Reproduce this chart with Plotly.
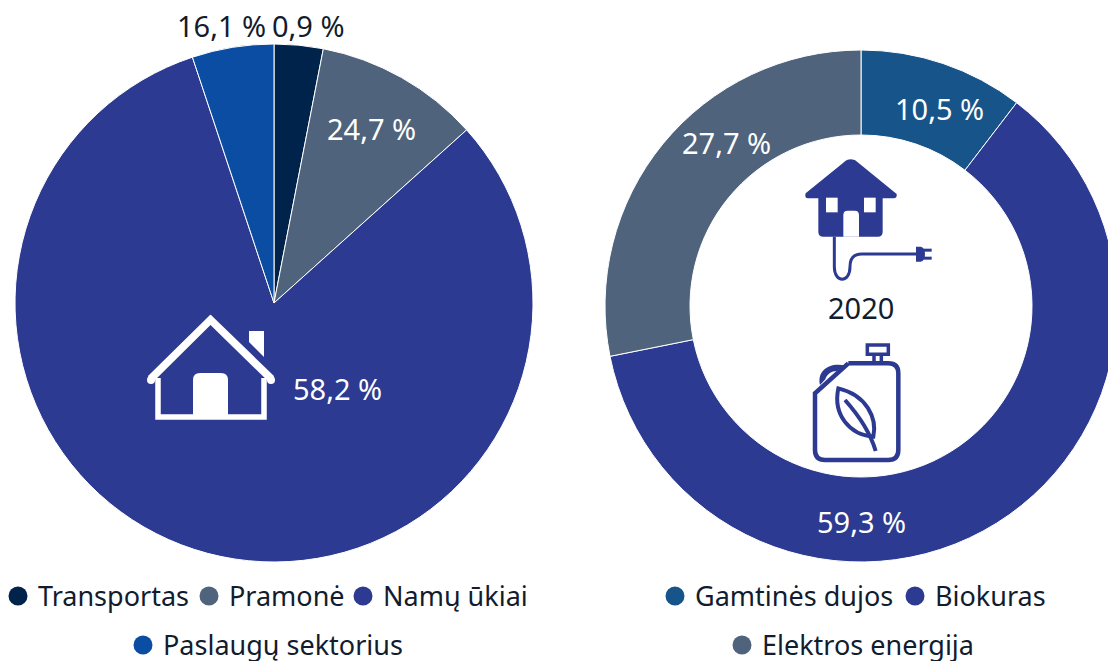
import re
import plotly.graph_objects as go

W, H = 1130, 680
FONT = "Noto Sans"
TXT = "#111c2e"

left_categories = ["Transportas", "Pramonė", "Namų ūkiai", "Paslaugų sektorius"]
left_labels = ["0,9 %", "24,7 %", "58,2 %", "16,1 %"]
# slice shares as drawn in the picture (they differ from the printed labels)
left_drawn_shares = [3.05, 10.3, 81.55, 5.1]
left_colors = ["#00234b", "#4f637c", "#2c3a91", "#0b4da2"]

right_categories = ["Gamtinės dujos", "Biokuras", "Elektros energija"]
right_labels = ["10,5 %", "59,3 %", "27,7 %"]
right_drawn_shares = [10.4, 61.45, 28.15]
right_colors = ["#16548a", "#2c3a91", "#4f637c"]
center_year = "2020"


def px(x):
    return x / W


def py(y):
    return 1 - y / H


def dom(cx, cy, r):
    return dict(x=[px(cx - r), px(cx + r)], y=[py(cy + r), py(cy - r)])


def path(s):
    """Convert a path in window pixels to paper coordinates."""
    i = [0]

    def rep(m):
        v = float(m.group(0))
        i[0] += 1
        return f"{px(v) if i[0] % 2 else py(v):.5f}"

    return re.sub(r"-?\d+\.?\d*", rep, s)


def shape(s, fill=None, line=None, lw=0):
    d = dict(type="path", xref="paper", yref="paper", path=path(s), layer="above")
    d["fillcolor"] = fill if fill else "rgba(0,0,0,0)"
    d["line"] = dict(color=line, width=lw) if line else dict(width=0)
    return d


def dot(cx, cy, r, col):
    return dict(type="circle", xref="paper", yref="paper", layer="above",
                x0=px(cx - r), x1=px(cx + r), y0=py(cy + r), y1=py(cy - r),
                fillcolor=col, line=dict(width=0))


def zp(s, ox, oy):
    """Path given in 3x zoom units around origin ox, oy."""
    i = [0]

    def rep(m):
        v = float(m.group(0)) / 3
        i[0] += 1
        return f"{v + (ox if i[0] % 2 else oy):.2f}"

    return re.sub(r"-?\d+\.?\d*", rep, s)


SLICE_LINE = dict(color="#ffffff", width=1)
fig = go.Figure()
fig.add_trace(go.Pie(
    labels=left_categories, values=left_drawn_shares, sort=False, direction="clockwise",
    rotation=0, textinfo="none", hoverinfo="label+percent", showlegend=False,
    marker=dict(colors=left_colors, line=SLICE_LINE),
    domain=dom(274, 303, 259),
))
fig.add_trace(go.Pie(
    labels=right_categories, values=right_drawn_shares, sort=False, direction="clockwise",
    rotation=0, hole=0.668, textinfo="none", hoverinfo="label+percent", showlegend=False,
    marker=dict(colors=right_colors, line=SLICE_LINE),
    domain=dom(861, 306, 256),
))

shapes = []
W_ = "#ffffff"
B_ = "#2c3a91"
# white house on the left pie
shapes += [
    shape("M 148 376 L 210 315 Q 210.5 314.5 211 315 L 274 376 L 271 384 L 210.5 325 L 151 384 Z", W_),
    dot(151, 380, 4, W_),
    dot(271, 380, 4, W_),
    shape("M 158 378 L 158 417 L 264 417 L 264 378", None, W_, 5.5),
    shape("M 193 417 L 193 380 Q 193 373 200 373 L 221 373 Q 228 373 228 380 L 228 417 Z", W_),
    shape("M 249 331 L 264 331 L 264 357 L 249 342 Z", W_),
]
# electric house
o = (790, 150)
shapes += [
    shape(zp("M 183 28 Q 195 28 205 38 L 320 132 Q 322 145 310 145 L 278 145 L 278 245 Q 278 260 263 260 "
             "L 100 260 Q 85 260 85 245 L 85 145 L 55 145 Q 42 145 47 130 L 160 38 Q 170 28 183 28 Z", *o), B_),
    shape(zp("M 108 143 L 143 143 L 143 187 L 108 187 Z", *o), W_),
    shape(zp("M 222 143 L 257 143 L 257 187 L 222 187 Z", *o), W_),
    shape(zp("M 160 260 L 160 195 Q 160 182 173 182 L 194 182 Q 207 182 207 195 L 207 260 Z", *o), W_),
    shape(zp("M 133 260 L 133 350 C 133 400 180 400 180 350 C 180 325 190 312 215 312 L 380 312", *o), None, B_, 3),
    shape(zp("M 378 290 L 392 290 Q 405 292 405 312 Q 405 333 392 335 L 378 335 Z", *o), B_),
    shape(zp("M 400 296 L 425 296 L 425 305 L 400 305 Z", *o), B_),
    shape(zp("M 400 320 L 425 320 L 425 329 L 400 329 Z", *o), B_),
]
# canister
o = (790, 335)
shapes += [
    shape(zp("M 175 85 L 295 85 Q 325 85 325 115 L 325 345 Q 325 375 295 375 L 105 375 Q 75 375 75 345 "
             "L 75 175 L 175 85", *o), None, B_, 4.5),
    shape(zp("M 90 150 C 80 105 120 80 168 92 L 140 108 C 125 108 110 118 106 133 Z", *o), B_),
    shape(zp("M 232 30 L 295 30 L 295 58 L 232 58 Z", *o), None, B_, 3.5),
    shape(zp("M 252 58 L 252 85 M 274 58 L 274 85", *o), None, B_, 3.5),
    shape(zp("M 145 160 C 230 180 262 250 250 305 C 180 300 128 240 145 160 Z", *o), None, B_, 4),
    shape(zp("M 165 195 C 205 240 240 290 257 348", *o), None, B_, 4),
]

ann = []


def text(x, y, s, color, size=29, anchor="center"):
    ann.append(dict(x=px(x), y=py(y), xref="paper", yref="paper", text=s, showarrow=False,
                    xanchor=anchor, yanchor="middle", font=dict(family=FONT, size=size, color=color)))


text(221.5, 26, left_labels[3], TXT)
text(308, 26, left_labels[0], TXT)
text(371, 128, left_labels[1], W_)
text(337, 388, left_labels[2], W_)
text(939, 109, right_labels[0], W_)
text(726, 142, right_labels[2], W_)
text(861, 521, right_labels[1], W_)
text(861, 308, center_year, TXT)


def legend_item(cx, cy, col, label):
    shapes.append(dot(cx, cy, 9.5, col))
    text(cx + 18, cy - 1, label, TXT, 27, "left")


legend_item(18, 596, left_colors[0], left_categories[0])
legend_item(209, 596, left_colors[1], left_categories[1])
legend_item(363, 596, left_colors[2], left_categories[2])
legend_item(143, 645, left_colors[3], left_categories[3])
legend_item(675, 596, right_colors[0], right_categories[0])
legend_item(915, 596, right_colors[1], right_categories[1])
legend_item(742, 645, right_colors[2], right_categories[2])

fig.update_layout(width=W, height=H, margin=dict(l=0, r=0, t=0, b=0), autosize=False,
                  paper_bgcolor="white", shapes=shapes, annotations=ann, showlegend=False)
fig.write_html("out.html", config={"displayModeBar": False},
               post_script="document.documentElement.style.overflow='hidden';document.body.style.overflow='hidden';document.body.style.margin='0';")
